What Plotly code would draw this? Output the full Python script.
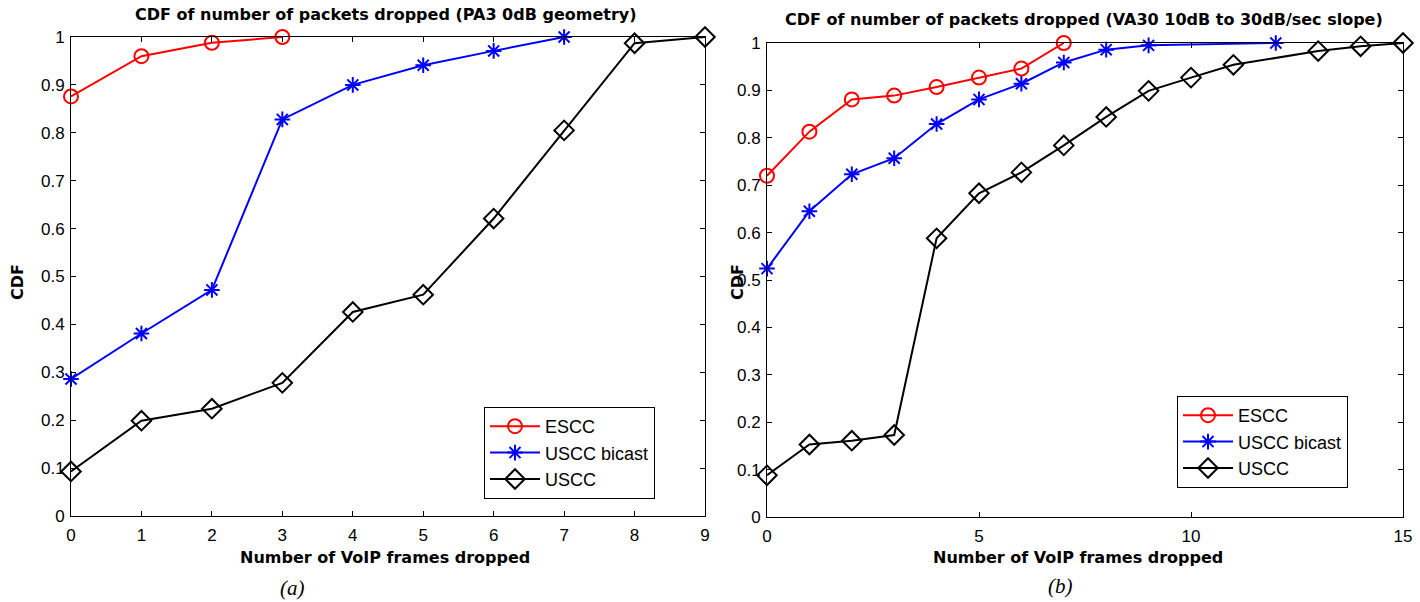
import plotly.graph_objects as go

# ---- Data: panel (a) PA3 0dB geometry ----
a_escc_x = [0, 1, 2, 3]
a_escc_y = [0.876, 0.960, 0.988, 1.000]
a_bicast_x = [0, 1, 2, 3, 4, 5, 6, 7]
a_bicast_y = [0.286, 0.381, 0.472, 0.828, 0.900, 0.941, 0.971, 1.000]
a_uscc_x = [0, 1, 2, 3, 4, 5, 6, 7, 8, 9]
a_uscc_y = [0.093, 0.199, 0.224, 0.278, 0.426, 0.462, 0.621, 0.805, 0.987, 1.000]

# ---- Data: panel (b) VA30 10dB to 30dB/sec slope ----
b_escc_x = [0, 1, 2, 3, 4, 5, 6, 7]
b_escc_y = [0.720, 0.813, 0.881, 0.889, 0.907, 0.927, 0.946, 1.000]
b_bicast_x = [0, 1, 2, 3, 4, 5, 6, 7, 8, 9, 12]
b_bicast_y = [0.524, 0.645, 0.723, 0.757, 0.829, 0.881, 0.914, 0.959, 0.986, 0.995, 1.000]
b_uscc_x = [0, 1, 2, 3, 4, 5, 6, 7, 8, 9, 10, 11, 13, 14, 15]
b_uscc_y = [0.088, 0.153, 0.161, 0.173, 0.588, 0.683, 0.727, 0.784, 0.844, 0.899, 0.927, 0.954, 0.983, 0.993, 1.000]

series_names = ["ESCC", "USCC bicast", "USCC"]
a_xticks = [0, 1, 2, 3, 4, 5, 6, 7, 8, 9]
b_xticks = [0, 5, 10, 15]
y_ticks = [0, 0.1, 0.2, 0.3, 0.4, 0.5, 0.6, 0.7, 0.8, 0.9, 1]
y_ticktext = ["0", "0.1", "0.2", "0.3", "0.4", "0.5", "0.6", "0.7", "0.8", "0.9", "1"]

W, H = 1420, 602
FONT = "Liberation Sans, Arial, sans-serif"
BFONT = "DejaVu Sans, Arial, sans-serif"
SERIF = "Liberation Serif, Times New Roman, serif"

styles = [
    dict(color="red", marker=dict(symbol="circle-open", size=14, color="red", line=dict(width=2, color="red"))),
    dict(color="blue", marker=dict(symbol="asterisk-open", size=13, color="blue", line=dict(width=2, color="blue"))),
    dict(color="black", marker=dict(symbol="diamond-open", size=15, color="black", line=dict(width=2, color="black"))),
]

fig = go.Figure()

a_data = [(a_escc_x, a_escc_y), (a_bicast_x, a_bicast_y), (a_uscc_x, a_uscc_y)]
b_data = [(b_escc_x, b_escc_y), (b_bicast_x, b_bicast_y), (b_uscc_x, b_uscc_y)]

for (xs, ys), name, st in zip(a_data, series_names, styles):
    fig.add_trace(go.Scatter(x=xs, y=ys, name=name, mode="lines+markers",
                             line=dict(color=st["color"], width=2), marker=st["marker"],
                             xaxis="x", yaxis="y", legend="legend", cliponaxis=False))
for (xs, ys), name, st in zip(b_data, series_names, styles):
    fig.add_trace(go.Scatter(x=xs, y=ys, name=name, mode="lines+markers",
                             line=dict(color=st["color"], width=2), marker=st["marker"],
                             xaxis="x2", yaxis="y2", legend="legend2", cliponaxis=False))

def px_x(p):
    return p / W

def px_y(p):
    return 1 - p / H

axis_common = dict(showgrid=False, zeroline=False, showline=True, linecolor="black", linewidth=1,
                   mirror="ticks", ticks="inside", ticklen=5, tickcolor="black",
                   tickfont=dict(family=FONT, size=17, color="black"))

legend_common = dict(xanchor="left", yanchor="top", bordercolor="black", borderwidth=1, bgcolor="white",
                     font=dict(family=FONT, size=18, color="black"), itemwidth=50, tracegroupgap=0)

fig.update_layout(
    width=W, height=H,
    margin=dict(l=0, r=0, t=0, b=0, autoexpand=False),
    paper_bgcolor="white", plot_bgcolor="white",
    font=dict(family=FONT, color="black"),
    xaxis=dict(domain=[px_x(71), px_x(705)], range=[0, 9], tickvals=a_xticks, anchor="y",
               ticklabelstandoff=4, **axis_common),
    yaxis=dict(domain=[px_y(516), px_y(37)], range=[0, 1], tickvals=y_ticks, ticktext=y_ticktext, anchor="x",
               ticklabelstandoff=2, **axis_common),
    xaxis2=dict(domain=[px_x(767), px_x(1403)], range=[0, 15], tickvals=b_xticks, anchor="y2",
                ticklabelstandoff=4, **axis_common),
    yaxis2=dict(domain=[px_y(517), px_y(43)], range=[0, 1], tickvals=y_ticks, ticktext=y_ticktext, anchor="x2",
                ticklabelstandoff=2, **axis_common),
    legend=dict(x=px_x(484), y=px_y(407), **legend_common),
    legend2=dict(x=px_x(1177), y=px_y(396), **legend_common),
)

ann = []
def add_text(text, x, y, size=16, bold=True, angle=0, italic=False, family=BFONT):
    t = text
    if bold:
        t = "<b>" + t + "</b>"
    if italic:
        t = "<i>" + t + "</i>"
    ann.append(dict(text=t, x=px_x(x), y=px_y(y), xref="paper", yref="paper",
                    xanchor="center", yanchor="middle", showarrow=False, textangle=angle,
                    font=dict(family=family, size=size, color="black")))

add_text("CDF of number of packets dropped (PA3 0dB geometry)", 386, 15, size=16)
add_text("CDF of number of packets dropped (VA30 10dB to 30dB/sec slope)", 1084, 19, size=16)
add_text("CDF", 17, 282, size=16, angle=-90)
add_text("CDF", 737, 282, size=16, angle=-90)
add_text("Number of VoIP frames dropped", 385, 557, size=16)
add_text("Number of VoIP frames dropped", 1078, 557, size=16)
add_text("(a)", 292, 588, size=21, bold=False, italic=True, family=SERIF)
add_text("(b)", 1060, 586, size=21, bold=False, italic=True, family=SERIF)
fig.update_layout(annotations=ann)

fig.write_html("out.html",
               post_script="document.body.style.margin='0px';document.body.style.padding='0px';document.body.style.overflow='hidden';")
